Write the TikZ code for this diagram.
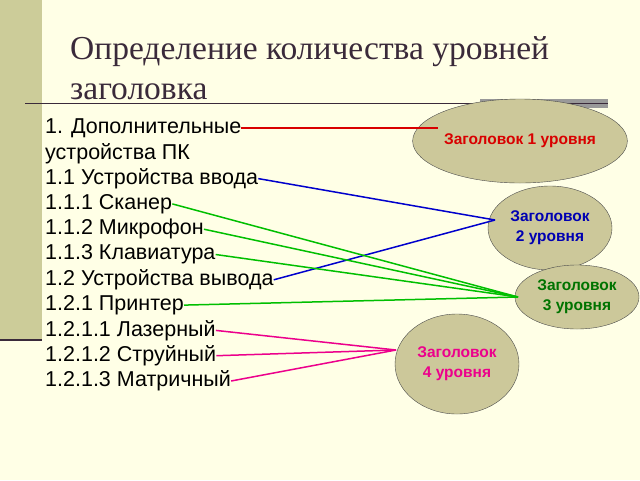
\documentclass[tikz,border=0pt]{standalone}
\usepackage{fontspec}
\setmainfont{Liberation Serif}
\newfontfamily\arialfont{Liberation Sans}
\usetikzlibrary{shapes.geometric}
\definecolor{bgcol}{HTML}{FFFFE6}
\definecolor{stripcol}{HTML}{CCCC99}
\definecolor{ovalcol}{HTML}{CCC89A}
\definecolor{titlecol}{HTML}{3A2A3A}
\begin{document}
\begin{tikzpicture}[x=1pt,y=-1pt,
	item/.style={anchor=west,inner sep=0pt,font=\arialfont\fontsize{21.5}{24}\selectfont},
	oval/.style={ellipse,draw=black!70,fill=ovalcol,inner sep=0pt,align=center,
		font=\arialfont\bfseries\fontsize{15.5}{20}\selectfont}]
	\def \rowh{ 25.3 };
	\fill[bgcol] (0,0) rectangle (640,480);
	\useasboundingbox (0,0) rectangle (640,480);
	\fill[stripcol] (0,0) rectangle (42,340);
	\draw[titlecol,line width=1.5pt] (0,340) -- (42,340);
	\fill[black!40] (480,99) rectangle (608,108);
	\draw[titlecol,line width=1pt] (25,103) -- (608,103);
	\node[anchor=west,text=titlecol,align=left,inner sep=0pt,font=\fontsize{33.5}{40}\selectfont] (title) at (70,68)
		{Определение количества уровней\\заголовка};
	% items
	\node[item] (l1) at (45,128) {1. Дополнительные};
	\node[item] (l2) at (45,128+1*\rowh) {устройства ПК};
	\node[item] (l3) at (45,128+2*\rowh) {1.1 Устройства ввода};
	\node[item] (l4) at (45,128+3*\rowh) {1.1.1 Сканер};
	\node[item] (l5) at (45,128+4*\rowh) {1.1.2 Микрофон};
	\node[item] (l6) at (45,128+5*\rowh) {1.1.3 Клавиатура};
	\node[item] (l7) at (45,128+6*\rowh) {1.2 Устройства вывода};
	\node[item] (l8) at (45,128+7*\rowh) {1.2.1 Принтер};
	\node[item] (l9) at (45,128+8*\rowh) {1.2.1.1 Лазерный};
	\node[item] (l10) at (45,128+9*\rowh) {1.2.1.2 Струйный};
	\node[item] (l11) at (45,128+10*\rowh) {1.2.1.3 Матричный};
	% ovals
	\node[oval,minimum width=174,minimum height=84,text=red!85!black] (e1) at (520,141) {Заголовок 1 уровня};
	\node[oval,minimum width=124,minimum height=84,text=blue!70!black] (e2) at (550,228) {Заголовок\\ 2 уровня};
	\node[oval,minimum width=124,minimum height=64,text=green!45!black] (e3) at (577,297) {Заголовок\\ 3 уровня};
	\node[oval,minimum width=124,minimum height=100,text=magenta] (e4) at (457,364) {Заголовок\\ 4 уровня};
	\coordinate (c1) at (438,128);
	\coordinate (c2) at (495,220);
	\coordinate (c3) at (518,297);
	\coordinate (c4) at (396,350);
	% connectors
	\draw[red!85!black,line width=1.5pt] (l1.east) -- (c1);
	\draw[blue!80!black,line width=1.5pt] (l3.east) -- (c2);
	\draw[blue!80!black,line width=1.5pt] (l7.east) -- (c2);
	\foreach \i in {4,5,6,8}
		\draw[green!75!black,line width=1.5pt] (l\i.east) -- (c3);
	\foreach \i in {9,10,11}
		\draw[magenta,line width=1.5pt] (l\i.east) -- (c4);
\end{tikzpicture}
\end{document}
